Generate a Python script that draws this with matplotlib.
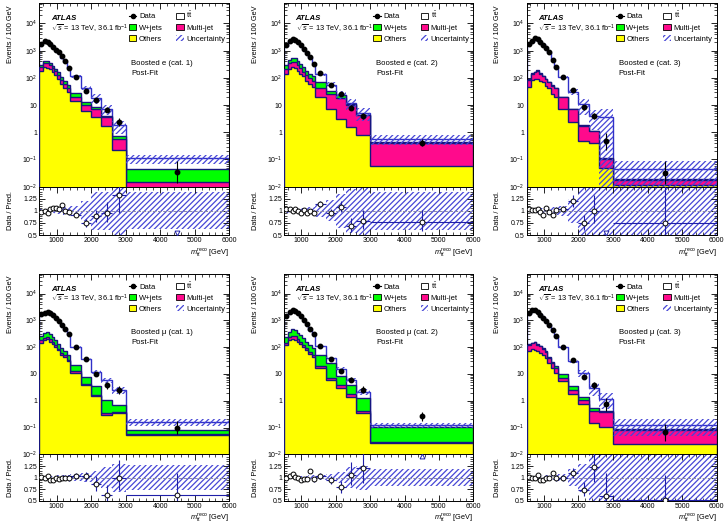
import numpy as np
import matplotlib
matplotlib.use('Agg')
import matplotlib.pyplot as plt
from matplotlib.patches import Patch
from matplotlib.lines import Line2D
from matplotlib.ticker import MultipleLocator, FixedLocator, LogLocator, NullFormatter

plt.rcParams['font.family'] = ['Liberation Sans', 'DejaVu Sans']
plt.rcParams['mathtext.fontset'] = 'custom'
plt.rcParams['mathtext.rm'] = 'Liberation Sans'
plt.rcParams['mathtext.it'] = 'Liberation Sans:italic'
plt.rcParams['mathtext.bf'] = 'Liberation Sans:bold'
plt.rcParams['hatch.linewidth'] = 0.9
plt.rcParams['font.size'] = 5

# bin edges of m_tt reco [GeV]
edges = np.array([500, 620, 700, 780, 860, 940, 1020, 1100, 1200, 1300, 1400,
                  1700, 2000, 2300, 2600, 3000, 6000])

# values are events / 100 GeV
# Boosted e (cat. 1)
e1_data = [1800, 2300, 2100, 1800, 1370, 1100, 890, 630, 400, 235, 105, 32, 16, 6.8, 2.4, 0.034]
e1_total = [1860, 2300, 2190, 1730, 1300, 1040, 850, 560, 400, 240, 114, 43, 18, 7.1, 1.8, 0.11]
e1_others = [186, 250, 234, 204, 160, 123, 91, 60, 44, 31, 14, 6.0, 3.5, 1.7, 0.23, 0.004]
e1_multijet = [65, 95, 110, 90, 70, 50, 38, 26, 17, 13, 5, 4, 3.5, 2.0, 0.32, 0.011]
e1_wjets = [40, 70, 75, 65, 50, 40, 30, 22, 16, 11, 8, 3.5, 1.6, 0.3, 0.2, 0.03]
e1_unc = [0.04, 0.04, 0.04, 0.05, 0.05, 0.06, 0.06, 0.07, 0.08, 0.09, 0.10, 0.20, 0.40, 0.40, 0.50, 0.38]

# Boosted e (cat. 2)
e2_data = [1600, 2250, 2600, 2400, 2000, 1600, 1200, 850, 590, 330, 155, 55, 26, 8.1, 4.0, 0.42]
e2_total = [1540, 2180, 2600, 2300, 2020, 1670, 1190, 880, 590, 345, 135, 57, 24, 11.7, 5.0, 0.55]
e2_others = [140, 215, 250, 240, 185, 140, 115, 80, 60, 45, 19, 7, 3.0, 1.6, 0.78, 0.06]
e2_multijet = [75, 135, 130, 130, 105, 95, 55, 50, 38, 35, 22, 19, 15, 8.4, 3.5, 0.36]
e2_wjets = [75, 115, 160, 150, 110, 95, 80, 55, 42, 35, 28, 8, 5.5, 0.5, 0.1, 0.01]
e2_unc = [0.04, 0.04, 0.04, 0.04, 0.05, 0.05, 0.06, 0.06, 0.07, 0.08, 0.12, 0.22, 0.35, 0.45, 0.5, 0.4]

# Boosted e (cat. 3)
e3_data = [1800, 2230, 2960, 2630, 2100, 1580, 1260, 890, 440, 260, 112, 36, 8.2, 4.0, 0.48, 0.033]
e3_total = [1730, 2170, 2930, 2530, 2160, 1720, 1180, 920, 480, 257, 108, 30, 10.9, 4.0, 3.5, 0.044]
e3_others = [45, 87, 91, 91, 80, 69, 52, 42, 26, 19, 7, 2.3, 0.48, 0.42, 0.05, 0.012]
e3_multijet = [42, 53, 69, 94, 60, 46, 39, 27, 26, 23, 12, 4.7, 1.2, 0.68, 0.05, 0.006]
e3_wjets = [3, 5, 6, 6, 5, 4, 3, 2.5, 2, 1.5, 0.8, 0.3, 0.1, 0.05, 0.01, 0.002]
e3_unc = [0.04, 0.04, 0.04, 0.05, 0.05, 0.06, 0.07, 0.08, 0.08, 0.09, 0.10, 0.25, 0.6, 0.7, 1.0, 1.0]

# Boosted mu (cat. 1)
m1_data = [1700, 1900, 2100, 1900, 1580, 1180, 970, 670, 465, 310, 105, 37, 10.2, 3.8, 2.5, 0.1]
m1_total = [1670, 1900, 2020, 2000, 1660, 1190, 1000, 680, 465, 313, 101, 36, 11.9, 6.0, 2.5, 0.16]
m1_others = [140, 180, 200, 160, 130, 100, 75, 52, 43, 30, 11, 3.7, 1.5, 0.29, 0.36, 0.054]
m1_multijet = [40, 40, 40, 35, 25, 18, 12, 8, 6, 4, 1.5, 0.4, 0.15, 0.05, 0.02, 0.002]
m1_wjets = [80, 110, 140, 110, 80, 62, 43, 31, 20, 18, 9.5, 3.7, 1.85, 0.76, 0.34, 0.023]
m1_unc = [0.03, 0.03, 0.03, 0.04, 0.04, 0.04, 0.05, 0.05, 0.06, 0.06, 0.07, 0.1, 0.15, 0.22, 0.3, 0.27]

# Boosted mu (cat. 2)
m2_data = [1500, 2100, 2400, 2200, 1800, 1400, 1050, 750, 480, 300, 112, 37, 12.5, 6.1, 2.6, 0.26]
m2_total = [1500, 2020, 2220, 2160, 1800, 1460, 1090, 780, 420, 310, 108, 39, 15.8, 5.8, 2.15, 0.12]
m2_others = [123, 178, 200, 190, 162, 132, 100, 76, 57, 42, 16.6, 5.9, 3.0, 1.4, 0.34, 0.026]
m2_multijet = [25, 57, 63, 60, 38, 28, 20, 15, 11, 8, 2.5, 1.2, 1.0, 0.45, 0.07, 0.002]
m2_wjets = [87, 145, 200, 190, 150, 130, 95, 71, 55, 41, 33, 19, 4.7, 2.15, 0.9, 0.075]
m2_unc = [0.03, 0.03, 0.03, 0.03, 0.03, 0.04, 0.04, 0.04, 0.05, 0.05, 0.05, 0.08, 0.12, 0.22, 0.26, 0.18]

# Boosted mu (cat. 3)
m3_data = [1800, 2500, 2500, 2100, 1580, 1260, 970, 670, 440, 250, 98, 34, 7.8, 3.7, 0.74, 0.066]
m3_total = [1760, 2530, 2500, 1980, 1650, 1330, 980, 680, 400, 250, 99, 31, 10.5, 3.0, 1.2, 0.125]
m3_others = [70, 85, 81, 70, 62, 49, 40, 26, 17, 11, 5.5, 1.8, 0.76, 0.15, 0.105, 0.025]
m3_multijet = [53, 55, 69, 53, 45, 36, 25, 14, 9, 6, 1.8, 0.8, 0.34, 0.28, 0.265, 0.055]
m3_wjets = [6, 7, 8, 7, 6, 5, 4, 3, 2.5, 2, 2.5, 0.8, 0.25, 0.09, 0.06, 0.011]
m3_unc = [0.04, 0.04, 0.04, 0.04, 0.04, 0.05, 0.05, 0.05, 0.06, 0.06, 0.07, 0.18, 0.3, 0.5, 0.6, 0.6]

labels = ['Boosted e (cat. 1)', 'Boosted e (cat. 2)', 'Boosted e (cat. 3)',
          'Boosted \u03bc (cat. 1)', 'Boosted \u03bc (cat. 2)', 'Boosted \u03bc (cat. 3)']

YELLOW = '#ffff00'
PINK = '#ff0a8c'
GREEN = '#00ff00'
NAVY = '#16167e'
TTLINE = '#3030c8'
HATCH = '#4646d6'
RBLUE = '#1f1fa8'

widths = np.diff(edges)
centers = edges[:-1] + widths / 2


def style_axes(ax):
    ax.set_xlim(500, 6000)
    ax.xaxis.set_major_locator(MultipleLocator(1000))
    ax.xaxis.set_minor_locator(MultipleLocator(200))
    ax.tick_params(which='both', direction='in', top=True, right=True, labelsize=5, pad=1.5)
    ax.tick_params(which='major', length=4, width=0.6)
    ax.tick_params(which='minor', length=2, width=0.5)
    for s in ax.spines.values():
        s.set_linewidth(0.7)


def draw_panel(ax, axr, label, data, total, others, multijet, wjets, unc):
    data = np.array(data); total = np.array(total)
    others = np.array(others); multijet = np.array(multijet); wjets = np.array(wjets)
    unc = np.array(unc)
    c1 = others
    c2 = c1 + multijet
    c3 = c2 + wjets

    ax.set_yscale('log')
    # stack, drawn from the top down
    ax.stairs(total, edges, baseline=1e-5, fill=True, facecolor='white', edgecolor=TTLINE, lw=1.0, zorder=1)
    ax.stairs(c3, edges, baseline=1e-5, fill=True, facecolor=GREEN, edgecolor=NAVY, lw=1.0, zorder=2)
    ax.stairs(c2, edges, baseline=1e-5, fill=True, facecolor=PINK, edgecolor=NAVY, lw=1.0, zorder=3)
    ax.stairs(c1, edges, baseline=1e-5, fill=True, facecolor=YELLOW, edgecolor=NAVY, lw=1.0, zorder=4)

    lo = np.maximum(total * (1 - unc), 1e-5)
    hi = total * (1 + unc)
    ax.bar(edges[:-1], hi - lo, width=widths, bottom=lo, align='edge', facecolor='none',
           edgecolor=HATCH, hatch='//////', lw=0, zorder=5)

    # data with poisson errors
    n = np.maximum(np.round(data * widths / 100), 1)
    scale = 100 / widths
    up = (0.5 + np.sqrt(n + 0.25)) * scale
    dn = (np.sqrt(n + 0.25) - 0.5) * scale
    dn = np.minimum(dn, data - 1e-4)
    ax.errorbar(centers, data, yerr=[dn, up], fmt='o', color='k', ms=3.2, elinewidth=0.8,
                capsize=0, zorder=6)

    ax.set_ylim(1e-2, 5.5e4)
    style_axes(ax)
    ax.yaxis.set_major_locator(FixedLocator([1e-2, 1e-1, 1, 10, 1e2, 1e3, 1e4]))
    ax.set_yticklabels([r'$10^{-2}$', r'$10^{-1}$', '1', '10', r'$10^{2}$', r'$10^{3}$', r'$10^{4}$'])
    ax.yaxis.set_minor_locator(LogLocator(base=10, subs=np.arange(2, 10)))
    ax.yaxis.set_minor_formatter(NullFormatter())
    ax.tick_params(axis='x', labelbottom=False)
    ax.set_ylabel('Events / 100 GeV', fontsize=5.3)
    ax.yaxis.set_label_coords(-0.135, 0.99)
    ax.yaxis.label.set_horizontalalignment('right')

    ax.text(0.06, 0.915, 'ATLAS', transform=ax.transAxes, fontsize=5.6, fontweight='bold',
            style='italic', va='center')
    ax.text(0.06, 0.86, r'$\sqrt{s}$ = 13 TeV, 36.1 fb$^{-1}$', transform=ax.transAxes,
            fontsize=5.3, va='center')
    ax.text(0.485, 0.672, label, transform=ax.transAxes, fontsize=5.6, va='center')
    ax.text(0.485, 0.618, 'Post-Fit', transform=ax.transAxes, fontsize=5.6, va='center')

    handles = [Line2D([], [], marker='o', color='k', ms=3, lw=0.8),
               Patch(facecolor=GREEN, edgecolor='k', lw=0.6),
               Patch(facecolor=YELLOW, edgecolor='k', lw=0.6),
               Patch(facecolor='white', edgecolor='k', lw=0.6),
               Patch(facecolor=PINK, edgecolor='k', lw=0.6),
               Patch(facecolor='none', edgecolor=HATCH, hatch='//////', lw=0)]
    names = ['Data', 'W+jets', 'Others', r'$\mathrm{t\bar{t}}$', 'Multi-jet', 'Uncertainty']
    ax.legend(handles, names, ncols=2, loc='upper left', bbox_to_anchor=(0.455, 0.98),
              frameon=False, fontsize=5.5, handlelength=1.0, handleheight=0.85,
              handletextpad=0.35, columnspacing=1.7, labelspacing=0.45, borderaxespad=0)

    # ratio panel
    ratio = data / total
    axr.bar(edges[:-1], 2 * unc, width=widths, bottom=1 - unc, align='edge', facecolor='none',
            edgecolor=HATCH, hatch='//////', lw=0, zorder=1)
    axr.axhline(1, color='#8888aa', ls='--', lw=0.7, zorder=2)
    ok = (ratio > 0.5) & (ratio < 1.5)
    axr.errorbar(centers[ok], ratio[ok], xerr=widths[ok] / 2,
                 yerr=[dn[ok] / total[ok], up[ok] / total[ok]], fmt='o', mfc='white', mec='k',
                 mew=0.7, ms=3.5, ecolor=RBLUE, elinewidth=0.8, capsize=0, zorder=3)
    low = ratio <= 0.5
    high = ratio >= 1.5
    axr.plot(centers[low], np.full(low.sum(), 0.54), 'v', mfc='white', mec=RBLUE, ms=3.5, mew=0.7, zorder=3)
    axr.plot(centers[high], np.full(high.sum(), 1.46), '^', mfc='white', mec=RBLUE, ms=3.5, mew=0.7, zorder=3)

    axr.set_ylim(0.5, 1.5)
    style_axes(axr)
    axr.yaxis.set_major_locator(FixedLocator([0.5, 0.75, 1, 1.25, 1.5]))
    axr.set_yticklabels(['0.5', '0.75', '1', '1.25', ''])
    axr.yaxis.set_minor_locator(MultipleLocator(0.05))
    axr.set_ylabel('Data / Pred.', fontsize=5.3)
    axr.yaxis.set_label_coords(-0.135, 0.5)
    axr.set_xlabel(r'$m_{\mathrm{t\bar{t}}}^{\mathrm{reco}}$ [GeV]', fontsize=5.3)
    axr.xaxis.set_label_coords(1.0, -0.36)
    axr.xaxis.label.set_horizontalalignment('right')
    axr.xaxis.label.set_verticalalignment('center')


fig = plt.figure(figsize=(7.26, 5.24), dpi=100)

col_x = [0.0541, 0.3916, 0.7254]
col_w = [0.2617, 0.2603, 0.2617]
rows = [(0.6437, 0.350, 0.5515, 0.0922), (0.133, 0.3447, 0.0439, 0.089)]

panels = [
    (e1_data, e1_total, e1_others, e1_multijet, e1_wjets, e1_unc),
    (e2_data, e2_total, e2_others, e2_multijet, e2_wjets, e2_unc),
    (e3_data, e3_total, e3_others, e3_multijet, e3_wjets, e3_unc),
    (m1_data, m1_total, m1_others, m1_multijet, m1_wjets, m1_unc),
    (m2_data, m2_total, m2_others, m2_multijet, m2_wjets, m2_unc),
    (m3_data, m3_total, m3_others, m3_multijet, m3_wjets, m3_unc),
]

for i, p in enumerate(panels):
    r, c = divmod(i, 3)
    my, mh, ry, rh = rows[r]
    ax = fig.add_axes([col_x[c], my, col_w[c], mh])
    axr = fig.add_axes([col_x[c], ry, col_w[c], rh])
    draw_panel(ax, axr, labels[i], *p)

fig.savefig('out.png', dpi=100)
